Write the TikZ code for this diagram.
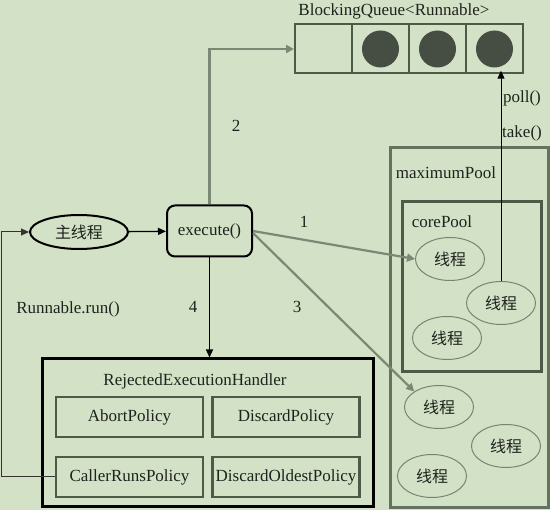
\documentclass[tikz,border=0pt]{standalone}
\usepackage{fontspec}
\setmainfont{Liberation Serif}
\newfontfamily\cjk{Noto Sans CJK SC}
\usetikzlibrary{shapes.geometric,arrows.meta}
\definecolor{bgcol}{RGB}{211,226,198}
\definecolor{boxcol}{RGB}{76,90,72}
\definecolor{poolcol}{RGB}{100,114,96}
\definecolor{arrcol}{RGB}{122,137,117}
\definecolor{ballcol}{RGB}{70,78,68}
\definecolor{thrcol}{RGB}{118,133,113}
\definecolor{txtcol}{RGB}{30,34,30}

\begin{document}
\begin{tikzpicture}[x=1pt, y=-1pt, text=txtcol,
    font=\fontsize{17}{19}\selectfont,
    thread/.style={ellipse, draw=thrcol, line width=1pt, minimum width=69pt,
      minimum height=43pt, inner sep=0pt, font=\cjk\fontsize{16}{18}\selectfont},
    policy/.style={draw=boxcol, line width=2.5pt, minimum width=147pt,
      minimum height=40pt, inner sep=0pt},
    cell/.style={draw=boxcol, line width=2pt, minimum width=57pt,
      minimum height=49pt, inner sep=0pt},
    ball/.style={circle, fill=ballcol, minimum size=37pt, inner sep=0pt},
    grayarr/.style={draw=arrcol, line width=2.2pt, -{Triangle[length=8pt,width=8pt]}},
    blackarr/.style={draw=black, line width=1.3pt, -{Triangle[length=8pt,width=7pt]}}]

      \fill[bgcol] (0,0) rectangle (550,510);
      \useasboundingbox (0,0) rectangle (550,510);

      % queue
      \node at (394,11) {BlockingQueue<Runnable>};
      \node[cell] (q1) at (323.5,49) {};
      \node[cell] (q2) at (380.5,49) {};
      \node[cell] (q3) at (437.5,49) {};
      \node[cell] (q4) at (494.5,49) {};
      \node[ball] (b2) at (q2) {};
      \node[ball] (b3) at (q3) {};
      \node[ball] (b4) at (q4) {};

      % pools
      \node[draw=poolcol, line width=3pt, minimum width=158pt, minimum height=360pt,
        inner sep=0pt] (maxpool) at (469,328) {};
      \node at (446,173) {maximumPool};
      \node[draw=boxcol, line width=3pt, minimum width=139pt, minimum height=170pt,
        inner sep=0pt] (corepool) at (471.5,287) {};
      \node at (442,222) {corePool};

      \node[thread] (t1) at (450,259) {线程};
      \node[thread] (t2) at (447,338) {线程};
      \node[thread] (t3) at (501,303) {线程};
      \node[thread] (t4) at (439,407) {线程};
      \node[thread] (t5) at (506,446) {线程};
      \node[thread] (t6) at (432,476) {线程};

      % caller side
      \node[ellipse, draw=black, line width=2pt, minimum width=98pt, minimum height=34pt,
        inner sep=0pt, font=\cjk\fontsize{16}{18}\selectfont] (main) at (79,232) {主线程};
      \node[draw=black, line width=2pt, rounded corners=8pt, minimum width=85pt,
        minimum height=51pt] (exec) at (209.5,231) {execute()};

      % handler
      \node[draw=black, line width=3pt, minimum width=331pt, minimum height=148pt,
        inner sep=0pt] (handler) at (208,433) {};
      \node at (195,381) {RejectedExecutionHandler};
      \node[policy] (abort) at (129.5,417) {AbortPolicy};
      \node[policy] (discard) at (286,417) {DiscardPolicy};
      \node[policy] (caller) at (129.5,477) {CallerRunsPolicy};
      \node[policy] (oldest) at (286,477) {DiscardOldestPolicy};

      % arrows
      \draw[blackarr] (main) -- (exec);
      \draw[grayarr, line width=2.8pt] (exec.north) |- (q1.west);
      \draw[grayarr] (exec.east) -- (t1.west);
      \draw[grayarr] ([yshift=-2pt]exec.east) -- (t4.north west);
      \draw[blackarr] (exec.south) -- (exec.south |- handler.north);
      \draw[line width=1pt, draw=black!80, -{Triangle[length=8pt,width=7pt]}]
        (caller.west) -- ++(-53,0) |- (main.west);
      \draw[line width=1pt, -{Triangle[length=8pt,width=7pt]}]
        (t3.north) -- ([yshift=-3pt]t3.north |- b4.south);

      \node at (236,126) {2};
      \node at (304,222) {1};
      \node at (297,307) {3};
      \node at (193,307) {4};
      \node at (68,309) {Runnable.run()};
      \node at (522,98) {poll()};
      \node at (522,133) {take()};
\end{tikzpicture}
\end{document}
